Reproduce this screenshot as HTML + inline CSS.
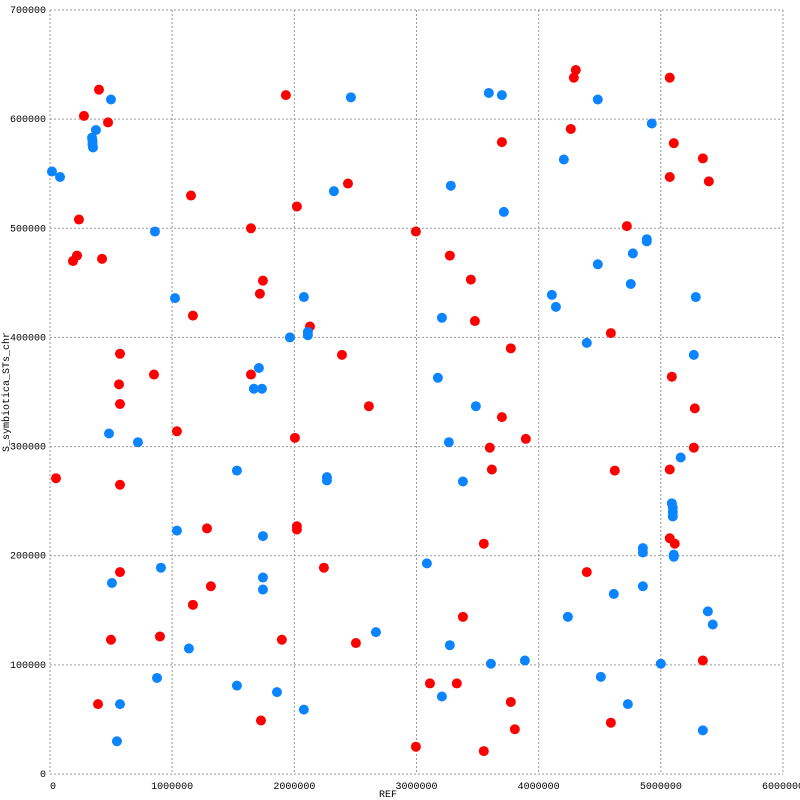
<!DOCTYPE html>
<html><head><meta charset="utf-8"><style>
html,body{margin:0;padding:0;background:#fff;width:800px;height:800px;overflow:hidden}
svg text{font-family:"Liberation Mono",monospace;font-size:10px;fill:#000}
</style></head><body>
<svg id="chart" width="800" height="800" xmlns="http://www.w3.org/2000/svg">
<g id="grid"></g>
<g id="xticks"></g>
<g id="yticks"></g>
<g id="red"></g>
<g id="blue"></g>
<text x="388" y="797" text-anchor="middle">REF</text>
<text transform="translate(9,392) rotate(-90)" text-anchor="middle">S_symbiotica_STs_chr</text>
</svg>
<script>
const xTicks=[0,1000000,2000000,3000000,4000000,5000000,6000000];
const yTicks=[0,100000,200000,300000,400000,500000,600000,700000];
const redX=[49,278,401,475,237,221,188,426,573,565,573,573,573,499,393,851,900,1039,1154,1170,1285,1170,1317,1645,1645,1743,1718,1727,1931,2021,2128,2005,2021,2021,2242,1898,2439,2390,2610,2504,2995,3273,3445,3478,3699,3600,3617,3772,3895,3551,3380,3110,3330,2995,3551,3772,3805,3699,4304,4288,4263,4591,4623,4394,4591,4722,5073,5106,5073,5344,5393,5090,5278,5270,5073,5073,5114,5344];
const redY=[271,603,627,597,508,475,470,472,385,357,339,265,185,123,64,366,126,314,530,420,225,155,172,500,366,452,440,49,622,520,410,308,227,224,189,123,541,384,337,120,497,475,453,415,327,299,279,390,307,211,144,83,83,25,21,66,41,579,645,638,591,404,278,185,47,502,638,578,547,564,543,364,335,299,279,216,211,104];
const blueX=[16,82,499,376,344,348,348,352,859,483,720,507,573,548,1023,1039,908,876,1137,1530,1530,1710,1669,1735,1743,1743,1743,1858,2078,2463,2324,2078,1964,2111,2111,2267,2267,2668,3592,3699,3281,3715,3208,3175,3486,3265,3380,3085,3273,3208,3609,3887,4484,4206,4108,4141,4394,4484,4771,4754,4926,4885,4885,5286,5270,5163,5090,5098,5098,5098,4853,4853,4853,4615,5106,5106,5385,5425,5000,4509,4730,5344,4239];
const blueY=[552,547,618,590,583,580,577,574,497,312,304,175,64,30,436,223,189,88,115,278,81,372,353,353,218,180,169,75,59,620,534,437,400,402,405,272,269,130,624,622,539,515,418,363,337,304,268,193,118,71,101,104,618,563,439,428,395,467,477,449,596,490,488,437,384,290,248,244,240,236,207,203,172,165,201,199,149,137,101,89,64,40,144];
const X0=50,X1=783,Y0=774,Y1=10;
const sx=v=>X0+(v/6000000)*(X1-X0);
const sy=v=>Y0-(v/700000)*(Y0-Y1);
const NS="http://www.w3.org/2000/svg";
function mk(tag,attrs,parent){const e=document.createElementNS(NS,tag);for(const k in attrs)e.setAttribute(k,attrs[k]);parent.appendChild(e);return e;}
const grid=document.getElementById('grid'),gx=document.getElementById('xticks'),gy=document.getElementById('yticks');
xTicks.forEach(t=>{
  const l=mk('line',{x1:sx(t),x2:sx(t),y1:Y1,y2:Y0,stroke:'#999','stroke-dasharray':'2,2'},grid);
  
  
  const tx=mk('text',{x:sx(t),y:Y0+15,'text-anchor':t===0?'start':'middle'},gx);
  tx.textContent=t;
  
  
});
yTicks.forEach(t=>{
  const l=mk('line',{x1:X0,x2:X1,y1:sy(t),y2:sy(t),stroke:'#999','stroke-dasharray':'2,2'},grid);
  
  
  const tx=mk('text',{x:X0-4,y:sy(t)+3,'text-anchor':'end'},gy);
  tx.textContent=t;
  
  
});
function pts(xs,ys,g,color,name){
  for(let i=0;i<xs.length;i++){
    const c=mk('circle',{cx:sx(xs[i]*1000),cy:sy(ys[i]*1000),r:5,fill:color},g);
    
    
  }
}
pts(redX,redY,document.getElementById('red'),'#ff0000','red-point');
pts(blueX,blueY,document.getElementById('blue'),'#0a84ff','blue-point');
</script>
</body></html>
